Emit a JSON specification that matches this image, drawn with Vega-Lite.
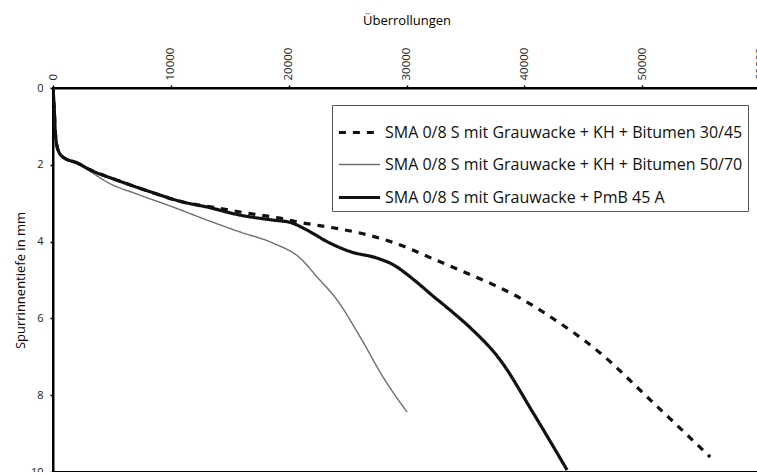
{
  "$schema": "https://vega.github.io/schema/vega-lite/v6.json",
  "autosize": "none",
  "width": 707,
  "height": 384,
  "padding": {"left": 53, "top": 88, "right": 0, "bottom": 0},
  "background": "white",
  "config": {
    "view": {"stroke": "black", "strokeWidth": 2},
    "font": "Open Sans"
  },
  "data": {
    "values": [
      {"s": "SMA 0/8 S mit Grauwacke + KH + Bitumen 30/45", "x": 0, "y": 0},
      {"s": "SMA 0/8 S mit Grauwacke + KH + Bitumen 30/45", "x": 100, "y": 0.5},
      {"s": "SMA 0/8 S mit Grauwacke + KH + Bitumen 30/45", "x": 200, "y": 1.17},
      {"s": "SMA 0/8 S mit Grauwacke + KH + Bitumen 30/45", "x": 424, "y": 1.61},
      {"s": "SMA 0/8 S mit Grauwacke + KH + Bitumen 30/45", "x": 850, "y": 1.8},
      {"s": "SMA 0/8 S mit Grauwacke + KH + Bitumen 30/45", "x": 2050, "y": 1.95},
      {"s": "SMA 0/8 S mit Grauwacke + KH + Bitumen 30/45", "x": 3140, "y": 2.13},
      {"s": "SMA 0/8 S mit Grauwacke + KH + Bitumen 30/45", "x": 5430, "y": 2.4},
      {"s": "SMA 0/8 S mit Grauwacke + KH + Bitumen 30/45", "x": 8230, "y": 2.7},
      {"s": "SMA 0/8 S mit Grauwacke + KH + Bitumen 30/45", "x": 11036, "y": 2.97},
      {"s": "SMA 0/8 S mit Grauwacke + KH + Bitumen 30/45", "x": 13922, "y": 3.12},
      {"s": "SMA 0/8 S mit Grauwacke + KH + Bitumen 30/45", "x": 16469, "y": 3.26},
      {"s": "SMA 0/8 S mit Grauwacke + KH + Bitumen 30/45", "x": 19270, "y": 3.39},
      {"s": "SMA 0/8 S mit Grauwacke + KH + Bitumen 30/45", "x": 20968, "y": 3.5},
      {"s": "SMA 0/8 S mit Grauwacke + KH + Bitumen 30/45", "x": 23769, "y": 3.64},
      {"s": "SMA 0/8 S mit Grauwacke + KH + Bitumen 30/45", "x": 26231, "y": 3.79},
      {"s": "SMA 0/8 S mit Grauwacke + KH + Bitumen 30/45", "x": 28353, "y": 3.97},
      {"s": "SMA 0/8 S mit Grauwacke + KH + Bitumen 30/45", "x": 30136, "y": 4.17},
      {"s": "SMA 0/8 S mit Grauwacke + KH + Bitumen 30/45", "x": 32258, "y": 4.45},
      {"s": "SMA 0/8 S mit Grauwacke + KH + Bitumen 30/45", "x": 34805, "y": 4.78},
      {"s": "SMA 0/8 S mit Grauwacke + KH + Bitumen 30/45", "x": 37352, "y": 5.12},
      {"s": "SMA 0/8 S mit Grauwacke + KH + Bitumen 30/45", "x": 39644, "y": 5.47},
      {"s": "SMA 0/8 S mit Grauwacke + KH + Bitumen 30/45", "x": 42020, "y": 5.92},
      {"s": "SMA 0/8 S mit Grauwacke + KH + Bitumen 30/45", "x": 46435, "y": 6.9},
      {"s": "SMA 0/8 S mit Grauwacke + KH + Bitumen 30/45", "x": 50680, "y": 8.12},
      {"s": "SMA 0/8 S mit Grauwacke + KH + Bitumen 30/45", "x": 55772, "y": 9.61},
      {"s": "SMA 0/8 S mit Grauwacke + KH + Bitumen 50/70", "x": 0, "y": 0},
      {"s": "SMA 0/8 S mit Grauwacke + KH + Bitumen 50/70", "x": 100, "y": 0.5},
      {"s": "SMA 0/8 S mit Grauwacke + KH + Bitumen 50/70", "x": 200, "y": 1.17},
      {"s": "SMA 0/8 S mit Grauwacke + KH + Bitumen 50/70", "x": 424, "y": 1.62},
      {"s": "SMA 0/8 S mit Grauwacke + KH + Bitumen 50/70", "x": 850, "y": 1.82},
      {"s": "SMA 0/8 S mit Grauwacke + KH + Bitumen 50/70", "x": 2050, "y": 1.98},
      {"s": "SMA 0/8 S mit Grauwacke + KH + Bitumen 50/70", "x": 3140, "y": 2.17},
      {"s": "SMA 0/8 S mit Grauwacke + KH + Bitumen 50/70", "x": 4584, "y": 2.45},
      {"s": "SMA 0/8 S mit Grauwacke + KH + Bitumen 50/70", "x": 7385, "y": 2.79},
      {"s": "SMA 0/8 S mit Grauwacke + KH + Bitumen 50/70", "x": 10187, "y": 3.1},
      {"s": "SMA 0/8 S mit Grauwacke + KH + Bitumen 50/70", "x": 13073, "y": 3.44},
      {"s": "SMA 0/8 S mit Grauwacke + KH + Bitumen 50/70", "x": 15874, "y": 3.75},
      {"s": "SMA 0/8 S mit Grauwacke + KH + Bitumen 50/70", "x": 18676, "y": 4.04},
      {"s": "SMA 0/8 S mit Grauwacke + KH + Bitumen 50/70", "x": 20968, "y": 4.43},
      {"s": "SMA 0/8 S mit Grauwacke + KH + Bitumen 50/70", "x": 22411, "y": 4.92},
      {"s": "SMA 0/8 S mit Grauwacke + KH + Bitumen 50/70", "x": 24109, "y": 5.52},
      {"s": "SMA 0/8 S mit Grauwacke + KH + Bitumen 50/70", "x": 26061, "y": 6.48},
      {"s": "SMA 0/8 S mit Grauwacke + KH + Bitumen 50/70", "x": 28014, "y": 7.53},
      {"s": "SMA 0/8 S mit Grauwacke + KH + Bitumen 50/70", "x": 30050, "y": 8.44},
      {"s": "SMA 0/8 S mit Grauwacke + PmB 45 A", "x": 0, "y": 0},
      {"s": "SMA 0/8 S mit Grauwacke + PmB 45 A", "x": 100, "y": 0.5},
      {"s": "SMA 0/8 S mit Grauwacke + PmB 45 A", "x": 200, "y": 1.17},
      {"s": "SMA 0/8 S mit Grauwacke + PmB 45 A", "x": 424, "y": 1.61},
      {"s": "SMA 0/8 S mit Grauwacke + PmB 45 A", "x": 850, "y": 1.8},
      {"s": "SMA 0/8 S mit Grauwacke + PmB 45 A", "x": 2050, "y": 1.95},
      {"s": "SMA 0/8 S mit Grauwacke + PmB 45 A", "x": 3140, "y": 2.13},
      {"s": "SMA 0/8 S mit Grauwacke + PmB 45 A", "x": 5430, "y": 2.4},
      {"s": "SMA 0/8 S mit Grauwacke + PmB 45 A", "x": 8230, "y": 2.7},
      {"s": "SMA 0/8 S mit Grauwacke + PmB 45 A", "x": 11036, "y": 2.97},
      {"s": "SMA 0/8 S mit Grauwacke + PmB 45 A", "x": 13073, "y": 3.1},
      {"s": "SMA 0/8 S mit Grauwacke + PmB 45 A", "x": 15874, "y": 3.31},
      {"s": "SMA 0/8 S mit Grauwacke + PmB 45 A", "x": 18676, "y": 3.44},
      {"s": "SMA 0/8 S mit Grauwacke + PmB 45 A", "x": 20119, "y": 3.5},
      {"s": "SMA 0/8 S mit Grauwacke + PmB 45 A", "x": 21562, "y": 3.7},
      {"s": "SMA 0/8 S mit Grauwacke + PmB 45 A", "x": 23260, "y": 4.0},
      {"s": "SMA 0/8 S mit Grauwacke + PmB 45 A", "x": 25212, "y": 4.26},
      {"s": "SMA 0/8 S mit Grauwacke + PmB 45 A", "x": 27504, "y": 4.43},
      {"s": "SMA 0/8 S mit Grauwacke + PmB 45 A", "x": 28863, "y": 4.6},
      {"s": "SMA 0/8 S mit Grauwacke + PmB 45 A", "x": 30561, "y": 4.98},
      {"s": "SMA 0/8 S mit Grauwacke + PmB 45 A", "x": 32258, "y": 5.42},
      {"s": "SMA 0/8 S mit Grauwacke + PmB 45 A", "x": 33956, "y": 5.85},
      {"s": "SMA 0/8 S mit Grauwacke + PmB 45 A", "x": 35399, "y": 6.24},
      {"s": "SMA 0/8 S mit Grauwacke + PmB 45 A", "x": 37946, "y": 7.08},
      {"s": "SMA 0/8 S mit Grauwacke + PmB 45 A", "x": 40747, "y": 8.46},
      {"s": "SMA 0/8 S mit Grauwacke + PmB 45 A", "x": 43633, "y": 9.95}
    ]
  },
  "mark": {"type": "line", "interpolate": "monotone", "clip": true},
  "encoding": {
    "x": {
      "field": "x", "type": "quantitative",
      "scale": {"domain": [0, 60000], "nice": false},
      "axis": {
        "orient": "top", "title": "Überrollungen", "values": [0, 10000, 20000, 30000, 40000, 50000, 60000],
        "format": "d", "labelAngle": -90, "labelFontSize": 11.5, "labelColor": "#222",
        "grid": false, "domainColor": "black", "domainWidth": 2, "tickColor": "black", "tickSize": 3, "tickWidth": 1.5,
        "labelPadding": 5, "titleFontSize": 13, "titleFontWeight": "normal", "titleColor": "#000", "titlePadding": 20
      }
    },
    "y": {
      "field": "y", "type": "quantitative",
      "scale": {"domain": [0, 10], "reverse": true, "nice": false},
      "axis": {
        "title": "Spurrinnentiefe in mm", "values": [0, 2, 4, 6, 8, 10], "labelFontSize": 11, "labelColor": "#222",
        "grid": false, "domainColor": "black", "domainWidth": 2, "tickColor": "black", "tickSize": 3, "tickWidth": 1.5,
        "labelPadding": 7, "titleFontSize": 13, "titleFontWeight": "normal", "titleColor": "#000", "titlePadding": 3
      }
    },
    "color": {
      "field": "s", "type": "nominal",
      "scale": {
        "domain": ["SMA 0/8 S mit Grauwacke + KH + Bitumen 30/45", "SMA 0/8 S mit Grauwacke + KH + Bitumen 50/70", "SMA 0/8 S mit Grauwacke + PmB 45 A"],
        "range": ["#111111", "#6e6e6e", "#111111"]
      },
      "legend": {
        "title": null, "orient": "none", "legendX": 279, "legendY": 17,
        "symbolType": "stroke", "symbolSize": 1700, "labelFontSize": 16, "labelColor": "#111", "labelLimit": 600,
        "strokeColor": "#555", "fillColor": "white", "padding": 5, "rowPadding": 2, "labelOffset": 3
      }
    },
    "strokeDash": {
      "field": "s", "type": "nominal",
      "scale": {
        "type": "ordinal",
        "domain": ["SMA 0/8 S mit Grauwacke + KH + Bitumen 30/45", "SMA 0/8 S mit Grauwacke + KH + Bitumen 50/70", "SMA 0/8 S mit Grauwacke + PmB 45 A"],
        "range": [[7, 7], [1, 0], [1, 0]]
      }
    },
    "strokeWidth": {
      "field": "s", "type": "nominal",
      "scale": {
        "type": "ordinal",
        "domain": ["SMA 0/8 S mit Grauwacke + KH + Bitumen 30/45", "SMA 0/8 S mit Grauwacke + KH + Bitumen 50/70", "SMA 0/8 S mit Grauwacke + PmB 45 A"],
        "range": [3.2, 1.4, 3.2]
      }
    }
  }
}
